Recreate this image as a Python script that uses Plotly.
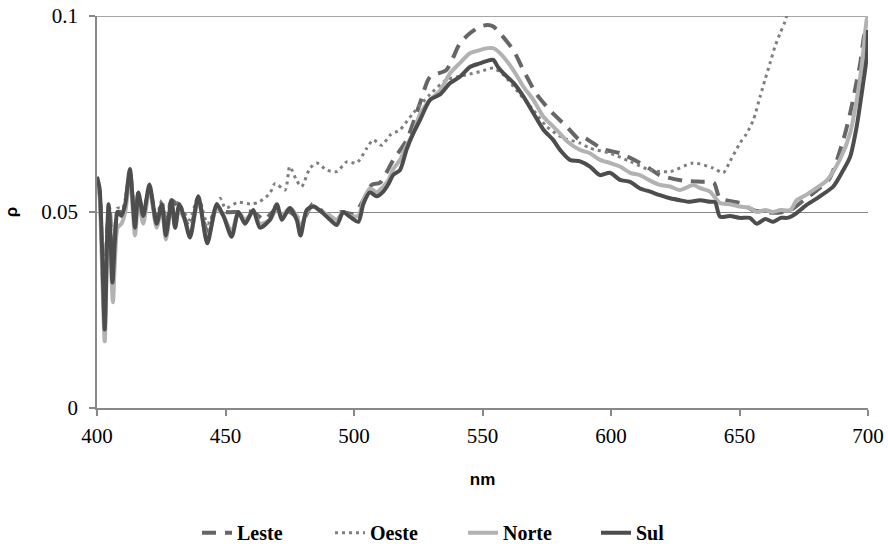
import plotly.graph_objects as go

# ---- data (wavelength in nm, reflectance rho) ----
nm_sul = [400, 401, 402, 403, 404, 404.5, 405.2, 406, 407, 408, 409.5, 411, 412.8, 414.8, 416.1, 418,
          420.4, 423.2, 425.2, 426.8, 429, 430.4, 432, 434.2, 436.2, 439.4, 442.9, 446.6, 449.2, 452.4,
          455, 457.6, 460.8, 463.4, 467.3, 470, 471.9, 475, 477.7, 479.2, 481.6, 484.2, 487.4, 490.7,
          493.3, 495.8, 498.4, 501.7, 503.6, 506.2, 508.8, 511.4, 513.3, 515.3, 517.9, 520.5, 523,
          525.7, 529.6, 533.5, 537.4, 541.2, 545.1, 549, 551.5, 554.2, 556, 558.1, 562, 565.9, 569.8,
          573.7, 577.5, 580.2, 584, 588, 591.8, 595.7, 599.6, 603.5, 607.4, 611.3, 615.2, 619, 623,
          626.8, 630.7, 634.6, 638.5, 640.5, 642.4, 646.3, 650.2, 654, 656.7, 660, 663.2, 666, 668.4,
          670.5, 672.2, 676.1, 681.3, 686.5, 690.4, 693, 695.6, 697.5, 699.5, 700]
sul = [0.059, 0.056, 0.040, 0.020, 0.045, 0.052, 0.045, 0.032, 0.043, 0.050, 0.049, 0.052, 0.061, 0.046,
       0.055, 0.049, 0.057, 0.047, 0.052, 0.044, 0.053, 0.046, 0.052, 0.048, 0.0435, 0.054, 0.042,
       0.052, 0.049, 0.0437, 0.050, 0.047, 0.0505, 0.046, 0.048, 0.052, 0.048, 0.051, 0.048, 0.044,
       0.0505, 0.0514, 0.050, 0.048, 0.0467, 0.050, 0.0488, 0.0475, 0.052, 0.055, 0.054, 0.0552,
       0.057, 0.0595, 0.0607, 0.066, 0.070, 0.0735, 0.0786, 0.080, 0.0829, 0.0845, 0.087, 0.0879,
       0.0885, 0.0888, 0.087, 0.0854, 0.083, 0.0795, 0.0752, 0.071, 0.0684, 0.0658, 0.0633, 0.0629,
       0.0616, 0.0594, 0.060, 0.0582, 0.0577, 0.056, 0.0552, 0.0543, 0.0535, 0.053, 0.0526, 0.053,
       0.0526, 0.0525, 0.0488, 0.049, 0.0485, 0.0485, 0.047, 0.0482, 0.0475, 0.0485, 0.0485, 0.049,
       0.0497, 0.0518, 0.054, 0.0565, 0.0607, 0.064, 0.0718, 0.080, 0.0896, 0.0964]

nm_norte = [400, 401, 402, 403, 404, 404.6, 405.3, 406.2, 407, 408, 409.5, 411, 412.8, 414.8, 416.1,
            418, 420.4, 423.2, 425.2, 426.8, 429, 430.4, 432, 434.2, 436.2, 439.4, 442.9, 446.6, 449.2,
            452.4, 455, 457.6, 460.8, 463.4, 467.3, 470, 471.9, 475, 477.7, 479.2, 481.6, 484.2, 487.4,
            490.7, 493.3, 495.8, 498.4, 501.7, 503.6, 506.2, 508.8, 511.4, 513.3, 515.3, 517.9, 520.5,
            523, 525.7, 529.6, 533.5, 537.4, 541.2, 545.1, 549, 552, 554.2, 556, 558.1, 562, 565.9,
            569.8, 573.7, 577.5, 580.2, 583, 588, 591.8, 595.7, 599.6, 603.5, 607.4, 611.3, 615.2, 619,
            623, 626.8, 632, 635, 638.5, 642.4, 646.3, 650.2, 654, 656.7, 660, 663, 666, 669.8, 672.2,
            675, 678.7, 683.9, 689, 693, 695.6, 697.5, 699.5, 700]
norte = [0.058, 0.054, 0.035, 0.017, 0.042, 0.050, 0.040, 0.027, 0.038, 0.046, 0.047, 0.050, 0.059,
         0.044, 0.053, 0.047, 0.056, 0.046, 0.051, 0.043, 0.052, 0.046, 0.051, 0.048, 0.044, 0.053,
         0.043, 0.051, 0.049, 0.045, 0.050, 0.048, 0.050, 0.047, 0.048, 0.051, 0.049, 0.051, 0.049,
         0.046, 0.050, 0.0515, 0.050, 0.049, 0.048, 0.050, 0.049, 0.049, 0.053, 0.056, 0.055, 0.0565,
         0.058, 0.061, 0.0633, 0.067, 0.070, 0.075, 0.0786, 0.081, 0.0854, 0.088, 0.0905, 0.0913,
         0.0918, 0.0918, 0.091, 0.0896, 0.0862, 0.082, 0.0786, 0.0743, 0.0718, 0.070, 0.068, 0.0658,
         0.065, 0.0633, 0.0625, 0.0616, 0.060, 0.0594, 0.058, 0.0569, 0.0565, 0.0556, 0.0569, 0.056,
         0.0552, 0.0523, 0.052, 0.0514, 0.051, 0.050, 0.0505, 0.050, 0.0505, 0.0505, 0.053, 0.054,
         0.0556, 0.058, 0.0633, 0.070, 0.0786, 0.087, 0.099, 0.100]

nm_leste = [400, 401, 402, 403, 404, 405, 406, 407, 408, 410, 412.8, 414.8, 416.1, 418, 420.4, 423.2,
            425.2, 426.8, 429, 432, 436.2, 439.4, 442.9, 446.6, 450, 455, 460.8, 465, 470, 475, 480,
            484, 490, 495, 500, 503.6, 507, 510, 515.3, 520.5, 525.7, 529.6, 535.9, 541.2, 545.1, 549,
            552, 554.2, 556.8, 562, 565.9, 571.1, 576.2, 582.7, 587.9, 589.2, 597, 603.5, 611.3, 615.2,
            619, 628.1, 635.9, 640, 642.4, 650.2, 655.4, 660, 665, 670, 675, 680, 685, 690.4, 693,
            694.9, 697, 698.5, 700]
leste = [0.058, 0.055, 0.038, 0.022, 0.046, 0.050, 0.035, 0.044, 0.050, 0.050, 0.060, 0.047, 0.055,
         0.049, 0.056, 0.048, 0.052, 0.046, 0.053, 0.051, 0.046, 0.053, 0.045, 0.051, 0.050, 0.050,
         0.050, 0.048, 0.051, 0.050, 0.048, 0.052, 0.049, 0.050, 0.0495, 0.053, 0.057, 0.0574, 0.0633,
         0.0684, 0.0778, 0.0845, 0.0862, 0.093, 0.0956, 0.0973, 0.0977, 0.0973, 0.0956, 0.0913, 0.0862,
         0.080, 0.076, 0.0718, 0.0684, 0.069, 0.066, 0.065, 0.0625, 0.061, 0.0594, 0.058, 0.0577,
         0.0575, 0.0535, 0.0523, 0.0505, 0.050, 0.0498, 0.0505, 0.053, 0.0555, 0.0585, 0.0684, 0.075,
         0.081, 0.088, 0.095, 0.098]

nm_oeste = [400, 401, 402, 403, 404, 405, 406, 407, 408, 410, 412.8, 414.8, 416.1, 418, 420.4, 423.2,
            425.2, 427, 429, 432, 436, 439.4, 443, 447.9, 450, 455, 460, 463.4, 467.3, 469.3, 473.2,
            475, 477.7, 479.6, 482.9, 485.5, 489.4, 493.3, 497.2, 501, 505, 507.5, 510.8, 514, 517.9,
            523, 529.6, 536, 543.8, 549, 554.2, 558.1, 564.6, 569.8, 575, 581.4, 587.9, 591.8, 599.6,
            607.4, 615.2, 623, 632, 639.8, 643.7, 646.3, 650.2, 652.8, 655.4, 658, 659.9, 661.9, 663.8,
            665.8, 667.7, 670]
oeste = [0.058, 0.055, 0.040, 0.024, 0.046, 0.051, 0.036, 0.045, 0.051, 0.051, 0.060, 0.049, 0.055,
         0.050, 0.056, 0.049, 0.053, 0.048, 0.053, 0.052, 0.048, 0.054, 0.047, 0.0535, 0.051, 0.0525,
         0.052, 0.0527, 0.0548, 0.0573, 0.0556, 0.0616, 0.058, 0.0565, 0.0612, 0.0625, 0.0607, 0.0603,
         0.0628, 0.0625, 0.0663, 0.0684, 0.067, 0.0696, 0.071, 0.0752, 0.080, 0.0837, 0.085, 0.0858,
         0.0867, 0.085, 0.080, 0.076, 0.0718, 0.0689, 0.0676, 0.0663, 0.065, 0.0629, 0.0607, 0.0603,
         0.0625, 0.0612, 0.060, 0.0629, 0.0676, 0.070, 0.0735, 0.0794, 0.0837, 0.088, 0.0922, 0.0956,
         0.0986, 0.104]

x_ticks = [400, 450, 500, 550, 600, 650, 700]
y_ticks = [0, 0.05, 0.1]
y_ticktext = ["0", "0.05", "0.1"]

serif = "Liberation Serif"
sans = "Liberation Sans"

fig = go.Figure()
fig.add_trace(go.Scatter(x=nm_leste, y=leste, name="Leste", mode="lines",
                         line=dict(color="#666666", width=4, dash="14px,9px", shape="spline", smoothing=0.7)))
fig.add_trace(go.Scatter(x=nm_oeste, y=oeste, name="Oeste", mode="lines",
                         line=dict(color="#7f7f7f", width=3, dash="3px,4px", shape="spline", smoothing=0.7)))
fig.add_trace(go.Scatter(x=nm_norte, y=norte, name="Norte", mode="lines",
                         line=dict(color="#b2b2b2", width=4, shape="spline", smoothing=0.7)))
fig.add_trace(go.Scatter(x=nm_sul, y=sul, name="Sul", mode="lines",
                         line=dict(color="#4d4d4d", width=4, shape="spline", smoothing=0.7)))

# top gridline at the last y tick (plotly skips the grid line on the range edge)
fig.add_shape(type="line", xref="paper", x0=0, x1=1, yref="y", y0=y_ticks[-1], y1=y_ticks[-1],
              line=dict(color="#888888", width=1.5), layer="below")

fig.update_layout(
    width=888, height=548,
    margin=dict(l=97, r=20, t=16, b=140, autoexpand=False),
    paper_bgcolor="white", plot_bgcolor="white",
    showlegend=True,
    legend=dict(orientation="h", x=0.1297, xanchor="left", y=-0.318, yanchor="middle",
                font=dict(family=serif, size=20, color="black", weight="bold"),
                entrywidth=88, entrywidthmode="pixels", bgcolor="rgba(0,0,0,0)"),
)
fig.update_xaxes(range=[400, 700], tickvals=x_ticks, showgrid=False, zeroline=False,
                 showline=True, linecolor="#888888", linewidth=1.5,
                 ticks="outside", ticklen=6, tickcolor="#888888", tickwidth=1.5,
                 ticklabelstandoff=2, ticklabeloverflow="allow",
                 tickfont=dict(family=serif, size=21, color="black"),
                 title=dict(text="nm", font=dict(family=sans, size=17, color="black", weight="bold"),
                            standoff=26))
fig.update_yaxes(range=[0, 0.1], tickvals=y_ticks, ticktext=y_ticktext, showgrid=True,
                 gridcolor="#888888", gridwidth=1, zeroline=False,
                 showline=True, linecolor="#888888", linewidth=1.5,
                 ticks="outside", ticklen=6, tickcolor="#888888", tickwidth=1.5,
                 ticklabelstandoff=7, ticklabeloverflow="allow",
                 tickfont=dict(family=serif, size=21, color="black"),
                 title=dict(text="ρ", font=dict(family=sans, size=17, color="black", weight="bold"),
                            standoff=19))

# remove the browser's default 8px page margin so the 888x548 figure fills the window exactly
fig.write_html("out.html", config={"displayModeBar": False},
               post_script="document.body.style.margin='0';")
